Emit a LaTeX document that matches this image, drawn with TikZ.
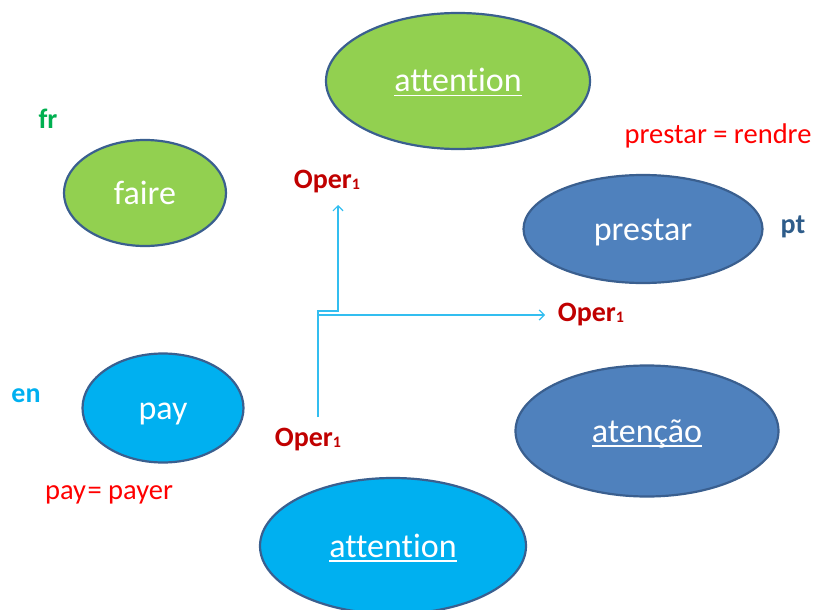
\documentclass[tikz,border=0pt]{standalone}
\usepackage{fontspec}
\setmainfont{Carlito}
\newfontfamily\widefont[Ligatures=NoCommon]{Carlito}
\usetikzlibrary{shapes.geometric,arrows.meta}
\definecolor{gfill}{HTML}{92D050}
\definecolor{bfill}{HTML}{4F81BD}
\definecolor{cfill}{HTML}{00B0F0}
\definecolor{edge}{HTML}{3A5F8F}
\definecolor{oper}{HTML}{C00000}
\definecolor{frgreen}{HTML}{00B050}
\definecolor{ptblue}{HTML}{2E5C8A}
\definecolor{arrowc}{HTML}{33BEF0}
\newcommand\ulword[1]{\setbox0\hbox{#1}\copy0\kern-\wd0\raisebox{-4.5pt}[0pt][0pt]{\rule{\wd0}{1.8pt}}}
\newcommand\opertext{\textbf{Oper}\raisebox{-1pt}{\fontsize{16}{16}\selectfont\bfseries 1}}
\tikzset{
  ell/.style={ellipse, draw=edge, line width=2.2pt, inner sep=0pt, text=white,
    text height=22pt, text depth=0pt,
    font=\widefont\fontsize{34}{40}\selectfont},
  lang/.style={font=\bfseries\fontsize{28}{32}\selectfont, inner sep=0pt},
  operlbl/.style={text=oper, font=\fontsize{28}{32}\selectfont, inner sep=0pt},
  eqlbl/.style={text=red, font=\fontsize{28.5}{32}\selectfont, inner sep=0pt},
  conn/.style={draw=arrowc, line width=1.2pt, -{Straight Barb[length=5pt,width=10pt]}}
}
\begin{document}
\begin{tikzpicture}[x=1pt,y=-1pt]
\useasboundingbox (0,0) rectangle (817,610);
\node[ell, fill=gfill, minimum width=264pt, minimum height=136pt] (attfr) at (458,81) {\ulword{attention}};
\node[ell, fill=gfill, minimum width=162pt, minimum height=106pt] (faire) at (145,193) {faire};
\node[ell, fill=bfill, minimum width=239pt, minimum height=108pt] (prestar) at (643,229) {prestar};
\node[ell, fill=cfill, minimum width=161pt, minimum height=109pt] (pay) at (163,408) {pay};
\node[ell, fill=bfill, minimum width=263pt, minimum height=131pt] (atencao) at (647,431) {\ulword{atenção}};
\node[ell, fill=cfill, minimum width=266pt, minimum height=136pt] (atten) at (393,546) {\ulword{attention}};

\node[lang, text=frgreen] (fr) at (48,119) {fr};
\node[lang, text=cfill] (en) at (26,396) {en};
\node[lang, text=ptblue] (pt) at (793,227) {pt};

\node[eqlbl] (eqpt) at (718,136) {prestar = rendre};
\node[eqlbl] (eqen) at (109,495) {pay{\kern1.5pt}= payer};

\node[operlbl] (optop) at (327,182) {\opertext};
\node[operlbl] (opright) at (591,315) {\opertext};
\node[operlbl] (opbot) at (308,440) {\opertext};

\coordinate (start) at (318,417);
\coordinate (bendA) at (318,311);
\coordinate (bendB) at (338,311);
\coordinate (tipA) at (338,205);
\coordinate (bendC) at (318,315);
\coordinate (tipB) at (545,315);
\draw[conn] (start) -- (bendA) -- (bendB) -- (tipA);
\draw[conn] (start) -- (bendC) -- (tipB);
\end{tikzpicture}
\end{document}
